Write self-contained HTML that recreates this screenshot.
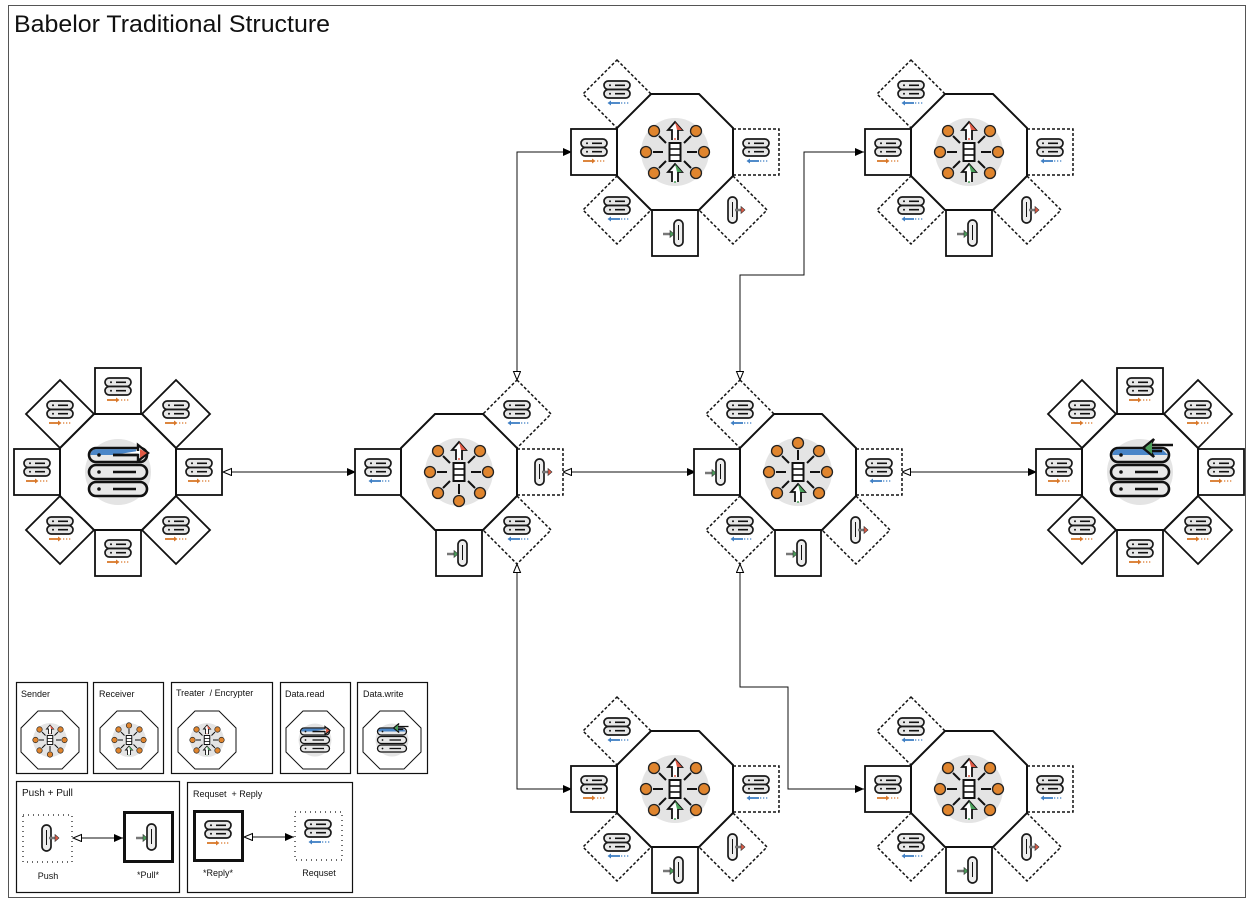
<!DOCTYPE html>
<html><head><meta charset="utf-8"><style>
html,body{margin:0;padding:0;background:#fff}
svg{display:block}
text{font-family:"Liberation Sans",sans-serif}
</style></head><body>
<svg width="1251" height="901" viewBox="0 0 1251 901" xmlns="http://www.w3.org/2000/svg">
<defs>
<marker id="fa" markerWidth="10" markerHeight="8" refX="9" refY="4" orient="auto" markerUnits="userSpaceOnUse"><path d="M0,0 L9,4 L0,8 Z" fill="#000"/></marker>
<marker id="oa" markerWidth="10" markerHeight="10" refX="9" refY="4" orient="auto-start-reverse" markerUnits="userSpaceOnUse"><path d="M0.5,0.5 L9,4 L0.5,7.5 Z" fill="#fff" stroke="#000" stroke-width="1"/></marker>
<g id="srv">
<rect x="-13" y="-13" width="26" height="8.5" rx="4.2" fill="#e8e8e8" stroke="#1a1a1a" stroke-width="1.7"/>
<rect x="-13" y="-4.5" width="26" height="8.5" rx="4.2" fill="#e8e8e8" stroke="#1a1a1a" stroke-width="1.7"/>
<circle cx="-7" cy="-8.7" r="1" fill="#111"/><circle cx="-7" cy="-0.3" r="1" fill="#111"/>
<line x1="-2" y1="-8.7" x2="8" y2="-8.7" stroke="#111" stroke-width="1.6"/>
<line x1="-2" y1="-0.3" x2="8" y2="-0.3" stroke="#111" stroke-width="1.6"/>
</g>
<g id="rep"><use href="#srv"/>
<line x1="-11" y1="9" x2="-1" y2="9" stroke="#d9782a" stroke-width="1.8"/><path d="M-2,6.5 L1.5,9 L-2,11.5Z" fill="#d9782a"/>
<line x1="3" y1="9" x2="11" y2="9" stroke="#d9782a" stroke-width="1.3" stroke-dasharray="1.3 1.7"/></g>
<g id="req"><use href="#srv"/>
<line x1="-7" y1="9" x2="3" y2="9" stroke="#3f7fc4" stroke-width="1.8"/><path d="M-6,6.5 L-9.5,9 L-6,11.5Z" fill="#3f7fc4"/>
<line x1="4" y1="9" x2="12" y2="9" stroke="#3f7fc4" stroke-width="1.3" stroke-dasharray="1.3 1.7"/></g>
<g id="push"><rect x="-5" y="-13" width="9" height="26" rx="4.5" fill="#eee" stroke="#1a1a1a" stroke-width="1.7"/>
<line x1="-0.5" y1="-8" x2="-0.5" y2="7" stroke="#111" stroke-width="1"/>
<line x1="2" y1="0" x2="9" y2="0" stroke="#777" stroke-width="2.5"/><path d="M8,-3.5 L12,0 L8,3.5Z" fill="#e05a45" stroke="#333" stroke-width="0.6"/></g>
<g id="pull"><rect x="-1" y="-13" width="9" height="26" rx="4.5" fill="#eee" stroke="#1a1a1a" stroke-width="1.7"/>
<line x1="3.5" y1="-8" x2="3.5" y2="7" stroke="#111" stroke-width="1"/>
<line x1="-12" y1="1" x2="-4" y2="1" stroke="#777" stroke-width="2.5"/><path d="M-5,-2.5 L-1,1 L-5,4.5Z" fill="#4aa05a" stroke="#333" stroke-width="0.6"/></g>
<rect id="sq" x="-23" y="-23" width="46" height="46" fill="#fff" stroke="#111" stroke-width="1.8"/>
<rect id="sqd" x="-23" y="-23" width="46" height="46" fill="#fff" stroke="#111" stroke-width="1.5" stroke-dasharray="3 2"/>
<polygon id="dia" points="0,-34 34,0 0,34 -34,0" fill="#fff" stroke="#111" stroke-width="1.8"/>
<polygon id="diad" points="0,-34 34,0 0,34 -34,0" fill="#fff" stroke="#111" stroke-width="1.5" stroke-dasharray="3 2"/>
<polygon id="oct" points="-24,-58 24,-58 58,-24 58,24 24,58 -24,58 -58,24 -58,-24" fill="#fff" stroke="#111" stroke-width="2"/>
<g id="hubbase">
<circle r="34" fill="#e4e4e4"/>
<g stroke="#111" stroke-width="2">
<line x1="-12" y1="0" x2="-22" y2="0"/><line x1="12" y1="0" x2="22" y2="0"/>
<line x1="-9" y1="-9" x2="-16" y2="-16"/><line x1="9" y1="-9" x2="16" y2="-16"/>
<line x1="-9" y1="9" x2="-16" y2="16"/><line x1="9" y1="9" x2="16" y2="16"/>
</g>
<g fill="#e0852e" stroke="#222" stroke-width="1.3">
<circle cx="-29" cy="0" r="5.5"/><circle cx="29" cy="0" r="5.5"/>
<circle cx="-21" cy="-21" r="5.5"/><circle cx="21" cy="-21" r="5.5"/>
<circle cx="-21" cy="21" r="5.5"/><circle cx="21" cy="21" r="5.5"/>
</g>
<rect x="-5.5" y="-9" width="11" height="18" fill="#fff" stroke="#111" stroke-width="2"/>
<line x1="-5.5" y1="-3" x2="5.5" y2="-3" stroke="#111" stroke-width="1.6"/>
<line x1="-5.5" y1="3" x2="5.5" y2="3" stroke="#111" stroke-width="1.6"/>
</g>
<g id="upred"><path d="M-3,-12 L-3,-22 L-7,-22 L0,-30 L7,-22 L3,-22 L3,-12" fill="#fff" stroke="#111" stroke-width="1.8"/><path d="M0,-30 L7,-22 L2,-22Z" fill="#e05a45"/><circle cx="0" cy="-13" r="1" fill="#e05a45"/></g>
<g id="upgreen"><path d="M-3,30 L-3,20 L-7,20 L0,12 L7,20 L3,20 L3,30" fill="#fff" stroke="#111" stroke-width="1.8"/><path d="M0,12 L7,20 L2,20Z" fill="#4aa05a"/><circle cx="0" cy="30" r="1" fill="#4aa05a"/></g>
<g id="circtop"><line x1="0" y1="-12" x2="0" y2="-22" stroke="#111" stroke-width="2"/><circle cx="0" cy="-29" r="5.5" fill="#e0852e" stroke="#222" stroke-width="1.3"/></g>
<g id="circbot"><line x1="0" y1="12" x2="0" y2="22" stroke="#111" stroke-width="2"/><circle cx="0" cy="29" r="5.5" fill="#e0852e" stroke="#222" stroke-width="1.3"/></g>
<g id="hubS"><use href="#hubbase"/><use href="#upred"/><use href="#circbot"/></g>
<g id="hubR"><use href="#hubbase"/><use href="#circtop"/><use href="#upgreen"/></g>
<g id="hubT"><use href="#hubbase"/><use href="#upred"/><use href="#upgreen"/></g>
<g id="bars">
<circle r="33" fill="#e4e4e4"/>
<rect x="-29" y="-24" width="58" height="14" rx="7" fill="#e8e8e8" stroke="#111" stroke-width="2.6"/>
<rect x="-29" y="-7" width="58" height="14" rx="7" fill="#e8e8e8" stroke="#111" stroke-width="2.6"/>
<rect x="-29" y="10" width="58" height="14" rx="7" fill="#e8e8e8" stroke="#111" stroke-width="2.6"/>
<circle cx="-19" cy="0" r="1.8" fill="#111"/><circle cx="-19" cy="17" r="1.8" fill="#111"/>
<line x1="-5" y1="0" x2="18" y2="0" stroke="#111" stroke-width="2.6"/>
<line x1="-5" y1="17" x2="18" y2="17" stroke="#111" stroke-width="2.6"/>
</g>
<g id="dread"><use href="#bars"/>
<path d="M-27.5,-17 A5.7,5.7 0 0 1 -22,-22.7 L18,-22.7 L18,-17 Z" fill="#4a86c8"/>
<circle cx="-19" cy="-17" r="1.8" fill="#111"/>
<path d="M-5,-17 L20,-17 L20,-11 L30,-19 L20,-27 L20,-21" fill="#fff" stroke="#111" stroke-width="2.4"/>
<path d="M-5,-17 L20,-17" stroke="#111" stroke-width="2.6"/>
<path d="M22,-23 L29,-19 L22,-14Z" fill="#e05a45"/>
</g>
<g id="dwrite"><use href="#bars"/>
<path d="M-27.5,-17 A5.7,5.7 0 0 1 -22,-22.7 L22,-22.7 L28,-17 Z" fill="#4a86c8"/>
<circle cx="-19" cy="-17" r="1.8" fill="#111"/>
<path d="M33,-27 L10,-27 L14,-33 L3,-24 L14,-15 L10,-21 L22,-21" fill="none" stroke="#111" stroke-width="2.4"/>
<path d="M5,-24 L12,-30 L12,-18Z" fill="#4aa05a"/>
</g>
<g id="datanode">
<use href="#sq" x="-81"/><use href="#rep" x="-81"/>
<use href="#sq" x="81"/><use href="#rep" x="81"/>
<use href="#sq" y="-81"/><use href="#rep" y="-81"/>
<use href="#sq" y="81"/><use href="#rep" y="81"/>
<use href="#dia" x="-58" y="-58"/><use href="#rep" x="-58" y="-58"/>
<use href="#dia" x="58" y="-58"/><use href="#rep" x="58" y="-58"/>
<use href="#dia" x="-58" y="58"/><use href="#rep" x="-58" y="58"/>
<use href="#dia" x="58" y="58"/><use href="#rep" x="58" y="58"/>
<use href="#oct"/>
</g>
<g id="tnode">
<use href="#sq" x="-81"/><use href="#rep" x="-81"/>
<use href="#diad" x="-58" y="-58"/><use href="#req" x="-58" y="-58"/>
<use href="#sqd" x="81"/><use href="#req" x="81"/>
<use href="#diad" x="-58" y="58"/><use href="#req" x="-58" y="58"/>
<use href="#sq" y="81"/><use href="#pull" y="81"/>
<use href="#diad" x="58" y="58"/><use href="#push" x="58" y="58"/>
<use href="#oct"/><use href="#hubT"/>
</g>
</defs>

<rect x="8.5" y="5.5" width="1237" height="892" fill="#fff" stroke="#555" stroke-width="1"/>
<text x="14" y="32" font-size="24" textLength="316" lengthAdjust="spacingAndGlyphs" fill="#111">Babelor Traditional Structure</text>

<!-- connectors -->
<g stroke="#111" stroke-width="1" fill="none">
<line x1="223" y1="472" x2="356" y2="472" marker-start="url(#oa)" marker-end="url(#fa)"/>
<line x1="563" y1="472" x2="696" y2="472" marker-start="url(#oa)" marker-end="url(#fa)"/>
<line x1="902" y1="472" x2="1037" y2="472" marker-start="url(#oa)" marker-end="url(#fa)"/>
<polyline points="517,380 517,152 572,152" marker-start="url(#oa)" marker-end="url(#fa)"/>
<polyline points="517,564 517,789 572,789" marker-start="url(#oa)" marker-end="url(#fa)"/>
<polyline points="740,380 740,275 804,275 804,152 864,152" marker-start="url(#oa)" marker-end="url(#fa)"/>
<polyline points="740,564 740,687 788,687 788,789 864,789" marker-start="url(#oa)" marker-end="url(#fa)"/>
</g>

<!-- data read -->
<g transform="translate(118,472)"><use href="#datanode"/><use href="#dread"/></g>
<!-- data write -->
<g transform="translate(1140,472)"><use href="#datanode"/><use href="#dwrite"/></g>

<!-- sender A -->
<g transform="translate(459,472)">
<use href="#sq" x="-81"/><use href="#req" x="-81"/>
<use href="#diad" x="58" y="-58"/><use href="#req" x="58" y="-58"/>
<use href="#sqd" x="81"/><use href="#push" x="81"/>
<use href="#diad" x="58" y="58"/><use href="#req" x="58" y="58"/>
<use href="#sq" y="81"/><use href="#pull" y="81"/>
<use href="#oct"/><use href="#hubS"/>
</g>
<!-- receiver B -->
<g transform="translate(798,472)">
<use href="#sq" x="-81"/><use href="#pull" x="-81"/>
<use href="#diad" x="-58" y="-58"/><use href="#req" x="-58" y="-58"/>
<use href="#sqd" x="81"/><use href="#req" x="81"/>
<use href="#diad" x="-58" y="58"/><use href="#req" x="-58" y="58"/>
<use href="#sq" y="81"/><use href="#pull" y="81"/>
<use href="#diad" x="58" y="58"/><use href="#push" x="58" y="58"/>
<use href="#oct"/><use href="#hubR"/>
</g>
<!-- treaters -->
<g transform="translate(675,152)"><use href="#tnode"/></g>
<g transform="translate(969,152)"><use href="#tnode"/></g>
<g transform="translate(675,789)"><use href="#tnode"/></g>
<g transform="translate(969,789)"><use href="#tnode"/></g>

<!-- legend -->
<g fill="#fff" stroke="#111" stroke-width="1.2">
<rect x="16.5" y="682.5" width="71" height="91"/>
<rect x="93.5" y="682.5" width="70" height="91"/>
<rect x="171.5" y="682.5" width="101" height="91"/>
<rect x="280.5" y="682.5" width="70" height="91"/>
<rect x="357.5" y="682.5" width="70" height="91"/>
<rect x="16.5" y="781.5" width="163" height="111"/>
<rect x="187.5" y="782.5" width="165" height="110"/>
</g>
<g font-size="9" fill="#111">
<text x="21" y="697">Sender</text>
<text x="99" y="697">Receiver</text>
<text x="176" y="696">Treater&#160;&#160;/&#160;Encrypter</text>
<text x="285" y="697">Data.read</text>
<text x="363" y="697">Data.write</text>
<text x="22" y="796" font-size="10">Push + Pull</text>
<text x="193" y="797">Requset&#160;&#160;+ Reply</text>
<text x="48" y="879" text-anchor="middle">Push</text>
<text x="148" y="878" text-anchor="middle">*Pull*</text>
<text x="218" y="876" text-anchor="middle">*Reply*</text>
<text x="319" y="876" text-anchor="middle">Requset</text>
</g>
<g transform="translate(50,740) scale(0.5)"><use href="#oct"/><use href="#hubS"/></g>
<g transform="translate(129,740) scale(0.5)"><use href="#oct"/><use href="#hubR"/></g>
<g transform="translate(207,740) scale(0.5)"><use href="#oct"/><use href="#hubT"/></g>
<g transform="translate(315,740) scale(0.5)"><use href="#oct"/><use href="#dread"/></g>
<g transform="translate(392,740) scale(0.5)"><use href="#oct"/><use href="#dwrite"/></g>

<rect x="23" y="815" width="49" height="47" fill="none" stroke="#111" stroke-width="1.2" stroke-dasharray="1 4"/>
<use href="#push" x="47" y="838"/>
<line x1="73" y1="838" x2="123" y2="838" stroke="#111" stroke-width="1" marker-start="url(#oa)" marker-end="url(#fa)"/>
<rect x="124.5" y="812.5" width="48" height="49" fill="#fff" stroke="#111" stroke-width="3"/>
<use href="#pull" x="148" y="837"/>

<rect x="194.5" y="811.5" width="48" height="49" fill="#fff" stroke="#111" stroke-width="3"/>
<use href="#rep" x="218" y="834"/>
<line x1="244" y1="837" x2="294" y2="837" stroke="#111" stroke-width="1" marker-start="url(#oa)" marker-end="url(#fa)"/>
<rect x="295" y="812" width="47" height="48" fill="none" stroke="#111" stroke-width="1.2" stroke-dasharray="1 4"/>
<use href="#req" x="318" y="833"/>
</svg>
</body></html>
